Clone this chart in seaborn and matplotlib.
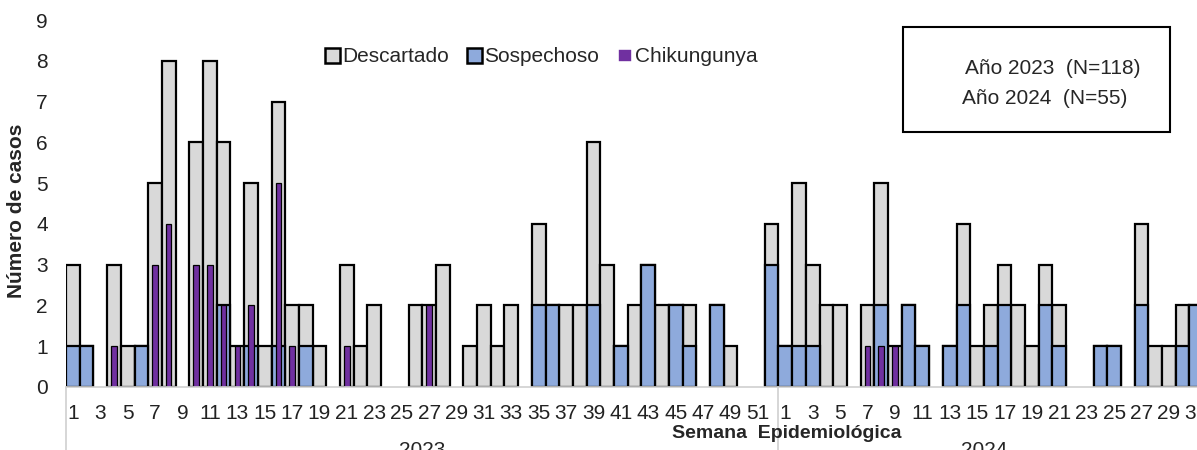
import pandas as pd
import seaborn as sns
import matplotlib.pyplot as plt
from matplotlib.patches import Patch, Rectangle
from matplotlib.transforms import blended_transform_factory

# epidemiological weeks shown on the axis
weeks_2023 = list(range(1, 53))
weeks_2024 = list(range(1, 32))

# total height of each week's bar (grey, "Descartado")
total_2023 = [3, 1, 0, 3, 1, 1, 5, 8, 0, 6, 8, 6, 1, 5, 1, 7, 2, 2, 1, 0,
              3, 1, 2, 0, 0, 2, 2, 3, 0, 1, 2, 1, 2, 0, 4, 2, 2, 2, 6, 3,
              1, 2, 3, 2, 2, 2, 0, 2, 1, 0, 0, 4]
total_2024 = [1, 5, 3, 2, 2, 0, 2, 5, 1, 2, 1, 0, 1, 4, 1, 2, 3, 2, 1, 3,
              2, 0, 0, 1, 1, 0, 4, 1, 1, 2, 2]

# suspected cases (blue)
sospechoso_2023 = [1, 1, 0, 0, 0, 1, 0, 0, 0, 0, 0, 2, 0, 1, 0, 1, 0, 1, 0, 0,
                   0, 0, 0, 0, 0, 0, 0, 0, 0, 0, 0, 0, 0, 0, 2, 2, 0, 0, 2, 0,
                   1, 0, 3, 0, 2, 1, 0, 2, 0, 0, 0, 3]
sospechoso_2024 = [1, 1, 1, 0, 0, 0, 0, 2, 0, 2, 1, 0, 1, 2, 0, 1, 2, 0, 0, 2,
                   1, 0, 0, 1, 1, 0, 2, 0, 0, 1, 2]

# confirmed chikungunya (purple, narrow)
chik_2023 = [0, 0, 0, 1, 0, 0, 3, 4, 0, 3, 3, 2, 1, 2, 0, 5, 1, 0, 0, 0,
             1, 0, 0, 0, 0, 0, 2, 0, 0, 0, 0, 0, 0, 0, 0, 0, 0, 0, 0, 0,
             0, 0, 0, 0, 0, 0, 0, 0, 0, 0, 0, 0]
chik_2024 = [0, 0, 0, 0, 0, 0, 1, 1, 1, 0, 0, 0, 0, 0, 0, 0, 0, 0, 0, 0,
             0, 0, 0, 0, 0, 0, 0, 0, 0, 0, 0]

n_2023 = 118
n_2024 = 55

GRIS = '#D9D9D9'
AZUL = '#8EAADC'
MORADO = '#7030A0'

sns.set_style('white')
plt.rcParams['font.family'] = ['Liberation Sans', 'DejaVu Sans']

semanas = weeks_2023 + weeks_2024
pos = [str(i) for i in range(len(semanas))]
df = pd.DataFrame({
    'pos': pos,
    'semana': semanas,
    'total': total_2023 + total_2024,
    'sospechoso': sospechoso_2023 + sospechoso_2024,
    'chik': chik_2023 + chik_2024,
})

fig = plt.figure(figsize=(11.97, 4.5), dpi=100)
ax = fig.add_axes([66 / 1197, 63 / 450, 1131 / 1197, 367 / 450])

capas = [('total', GRIS, 1.0, 1.6), ('sospechoso', AZUL, 1.0, 1.6), ('chik', MORADO, 0.4, 0.9)]
for col, color, ancho, lw in capas:
    sub = df[df[col] > 0]
    sns.barplot(data=sub, x='pos', y=col, order=pos, color=color, width=ancho,
                edgecolor='black', linewidth=lw, saturation=1, errorbar=None, ax=ax)

ax.set_xlim(-0.5, 82.05)
ax.set_ylim(0, 9)
ax.set_yticks(range(0, 10))

ticks = [i for i, s in enumerate(semanas) if s % 2 == 1]
ax.set_xticks(ticks)
ax.set_xticklabels([str(semanas[i]) for i in ticks])
ax.tick_params(axis='x', length=0, pad=12, labelsize=15, colors='#222222')
ax.tick_params(axis='y', length=0, pad=13, labelsize=15, colors='#222222')

for lado in ['left', 'right', 'top']:
    ax.spines[lado].set_visible(False)
ax.spines['bottom'].set_color('#D0D0D0')
ax.spines['bottom'].set_linewidth(1.2)

ax.set_xlabel('')
ax.set_ylabel('Número de casos', fontsize=15, fontweight='bold')
ax.yaxis.set_label_coords(-0.035, 0.48)

trans = blended_transform_factory(ax.transData, ax.transAxes)
for xs in [-0.5, len(weeks_2023) - 0.5]:
    ax.plot([xs, xs], [0, -0.18], color='#D0D0D0', lw=1.2, transform=trans, clip_on=False)

ax.text(52.1, -0.128, 'Semana  Epidemiológica', transform=trans, ha='center', va='center',
        fontsize=14, fontweight='bold')
ax.text((len(weeks_2023) - 1) / 2, -0.147, '2023', transform=trans, ha='center', va='top', fontsize=15)
ax.text(len(weeks_2023) + (len(weeks_2024) - 1) / 2 - 0.5, -0.147, '2024', transform=trans,
        ha='center', va='top', fontsize=15)

handles = [Patch(facecolor=GRIS, edgecolor='black', linewidth=1.8),
           Patch(facecolor=AZUL, edgecolor='black', linewidth=1.8),
           Patch(facecolor=MORADO, edgecolor='white', linewidth=2.6)]
ax.legend(handles, ['Descartado', 'Sospechoso', 'Chikungunya'], loc='center',
          bbox_to_anchor=(541 / 1197, 1 - 57 / 450), bbox_transform=fig.transFigure,
          ncol=3, frameon=False, fontsize=15, handlelength=0.75, handleheight=0.75,
          handletextpad=0.1, columnspacing=0.85)

caja = Rectangle((903 / 1197, 1 - 132 / 450), 267 / 1197, 105 / 450, transform=fig.transFigure,
                 facecolor='white', edgecolor='black', linewidth=1.5)
fig.patches.append(caja)
fig.text(1053 / 1197, 1 - 69 / 450, f'Año 2023  (N={n_2023})', ha='center', va='center', fontsize=15)
fig.text(1045 / 1197, 1 - 98 / 450, f'Año 2024  (N={n_2024})', ha='center', va='center', fontsize=15)

fig.savefig('out.png', dpi=100)
